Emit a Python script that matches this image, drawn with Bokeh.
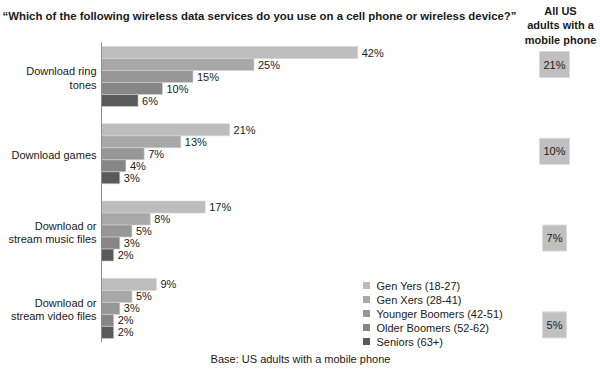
from bokeh.plotting import figure
from bokeh.models import Range1d
from bokeh.core.properties import value
from bokeh.embed import file_html
from bokeh.resources import INLINE

# ---------------- data ----------------
categories = ["Download ring\ntones", "Download games",
              "Download or\nstream music files", "Download or\nstream video files"]
series = ["Gen Yers (18-27)", "Gen Xers (28-41)", "Younger Boomers (42-51)",
          "Older Boomers (52-62)", "Seniors (63+)"]
gen_yers = [42, 21, 17, 9]
gen_xers = [25, 13, 8, 5]
younger_boomers = [15, 7, 5, 3]
older_boomers = [10, 4, 3, 2]
seniors = [6, 3, 2, 2]
all_us_adults = [21, 10, 7, 5]
series_values = [gen_yers, gen_xers, younger_boomers, older_boomers, seniors]
colors = ["#bdbdbd", "#a8a8a8", "#979797", "#868686", "#5a5a5a"]

title = "\u201cWhich of the following wireless data services do you use on a cell phone or wireless device?\u201d"
side_header = "All US\nadults with a\nmobile phone"
footer = "Base: US adults with a mobile phone"

# ---------------- layout ----------------
W, H = 600, 370
PX_PER_PCT = 6.1
X0 = 101           # pixel position of 0%
ROW = 12           # bar height in px
TOP0 = 46          # top of first bar
GROUP_STEP = 77.3
FONT = value("Liberation Sans")

p = figure(width=W, height=H, output_backend="svg", toolbar_location=None,
           x_range=Range1d(-X0 / PX_PER_PCT, (W - X0) / PX_PER_PCT),
           y_range=Range1d(H, 0), min_border=0, outline_line_color=None)
p.extra_x_ranges = {"px": Range1d(0, W)}
p.axis.visible = False
p.grid.visible = False
p.background_fill_color = "white"
p.border_fill_color = "white"

# bars + value labels
for si, (vals, col) in enumerate(zip(series_values, colors)):
    ys = [TOP0 + gi * GROUP_STEP + si * ROW + ROW / 2 for gi in range(len(vals))]
    p.hbar(y=ys, left=0, right=vals, height=ROW, fill_color=col,
           line_color="#d4d4d4", line_width=0.6)
    p.text(x=vals, y=ys, text=[f"{v}%" for v in vals], x_offset=4,
           text_baseline="middle", text_font=FONT, text_font_size="11px",
           text_color="#1a1a1a")

# axis line
p.segment(x0=[0], y0=[TOP0 - 4], x1=[0], y1=[TOP0 + 3 * GROUP_STEP + 5 * ROW + 4],
          line_color="#8c8c8c", line_width=1)

# category labels
cat_y = [TOP0 + gi * GROUP_STEP + 2.5 * ROW + 1.5 for gi in range(len(categories))]
p.text(x=[0] * len(categories), y=cat_y, text=categories, x_offset=-5,
       text_align="right", text_baseline="middle", text_line_height=1.1,
       text_font=FONT, text_font_size="11px", text_color="#1a1a1a")

# right column: all US adults
BOX_X, BOX_Y0, BOX_STEP = 554, 64, 86.8
p.text(x=[BOX_X] * len(all_us_adults),
       y=[BOX_Y0 + i * BOX_STEP for i in range(len(all_us_adults))],
       text=[f"{v}%" for v in all_us_adults], x_range_name="px",
       text_align="center", text_baseline="middle", text_font=FONT,
       text_font_size="11px", text_color="#1a1a1a",
       background_fill_color="#c0c0c0", border_line_color="#dadada",
       padding=[4, 7])
p.text(x=[560], y=[25], text=[side_header], x_range_name="px",
       text_align="center", text_baseline="middle", text_line_height=1.18,
       text_font=FONT, text_font_size="11px", text_font_style="bold",
       text_color="#1a1a1a")

# title
p.text(x=[259], y=[15], text=[title], x_range_name="px", text_align="center",
       text_baseline="middle", text_font=FONT, text_font_size="11.4px",
       text_font_style="bold", text_color="#1a1a1a")

# legend
LEG_X, LEG_Y0, LEG_STEP = 366, 285, 14
leg_y = [LEG_Y0 + i * LEG_STEP for i in range(len(series))]
p.scatter(x=[LEG_X] * len(series), y=leg_y, marker="square", size=7,
          fill_color=colors, line_color=None, x_range_name="px")
p.text(x=[LEG_X + 10] * len(series), y=leg_y, text=series, x_range_name="px",
       text_baseline="middle", text_font=FONT, text_font_size="11px",
       text_color="#1a1a1a")

# footer
p.text(x=[300], y=[358], text=[footer], x_range_name="px", text_align="center",
       text_baseline="middle", text_font=FONT, text_font_size="11px",
       text_color="#1a1a1a")

open("out.html", "w").write(file_html(p, INLINE))
